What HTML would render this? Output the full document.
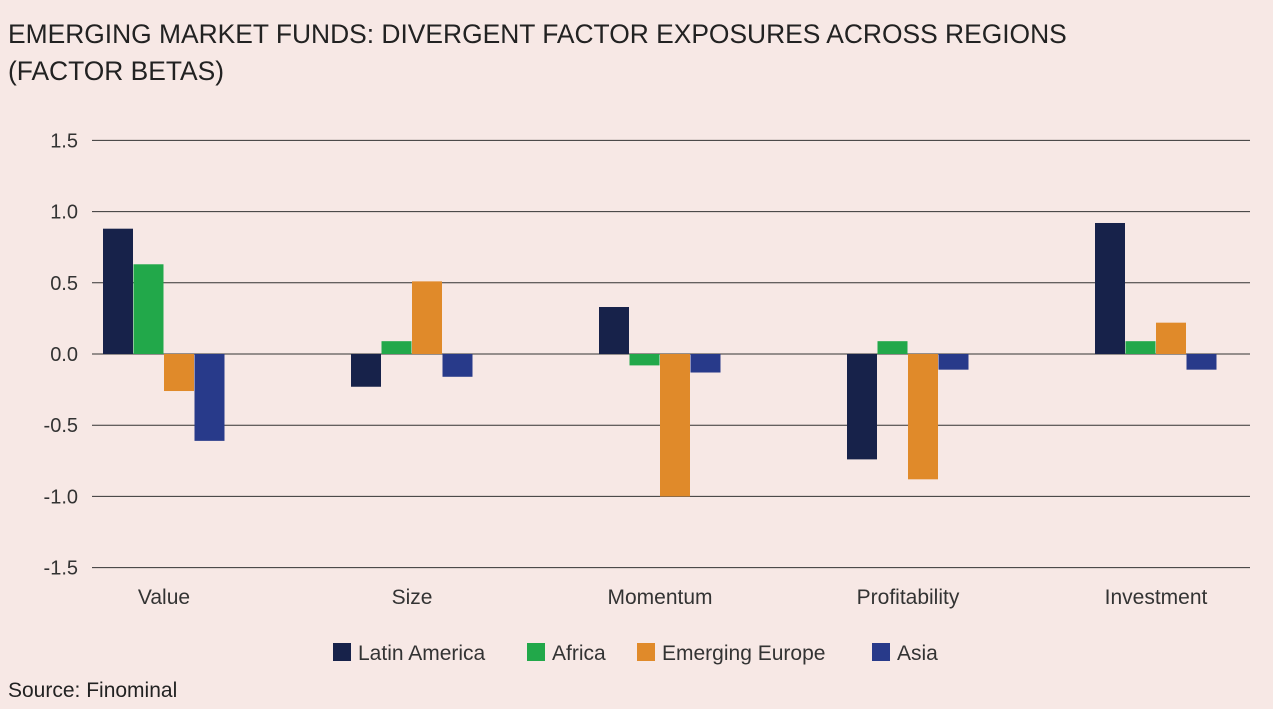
<!DOCTYPE html>
<html><head><meta charset="utf-8"><style>
body{margin:0;background:#f7e8e5;}
svg{display:block;font-family:"Liberation Sans",sans-serif;}
</style></head><body>
<svg width="1273" height="709" viewBox="0 0 1273 709">
<rect width="1273" height="709" fill="#f7e8e5"/>
<text x="8" y="43" font-size="26.4" fill="#222">EMERGING MARKET FUNDS: DIVERGENT FACTOR EXPOSURES ACROSS REGIONS</text>
<text x="8" y="80" font-size="26.4" fill="#222">(FACTOR BETAS)</text>
<g id="grid"></g><g id="bars"></g><g id="xlabels"></g><g id="legend"></g>
<text x="8" y="697" font-size="21" fill="#222">Source: Finominal</text>
</svg>
<script>
const categories=["Value","Size","Momentum","Profitability","Investment"];
const seriesNames=["Latin America","Africa","Emerging Europe","Asia"];
const latinAmerica=[0.88,-0.23,0.33,-0.74,0.92];
const africa=[0.63,0.09,-0.08,0.09,0.09];
const emergingEurope=[-0.26,0.51,-1.0,-0.88,0.22];
const asia=[-0.61,-0.16,-0.13,-0.11,-0.11];
const yTicks=[1.5,1.0,0.5,0.0,-0.5,-1.0,-1.5];
const colors=["#17224a","#22a84a","#e08a2a","#283a8a"];
const series=[latinAmerica,africa,emergingEurope,asia];
const NS="http://www.w3.org/2000/svg";
const y=v=>354-v*142.4;
const step=248, x0=40;
const xc=i=>x0+step*i+step/2;
const bw=30.5;
function mk(t,a,p){const e=document.createElementNS(NS,t);for(const k in a)e.setAttribute(k,a[k]);p.appendChild(e);return e;}
const grid=document.getElementById('grid');
yTicks.forEach(t=>{
 const l=mk('line',{x1:92,x2:1250,y1:y(t),y2:y(t),stroke:'#333','stroke-width':1},grid);
 
 
 const tx=mk('text',{x:78,y:y(t)+7,'font-size':20,fill:'#333','text-anchor':'end'},grid);
 tx.textContent=t.toFixed(1);
 
 
});
const bars=document.getElementById('bars');
categories.forEach((c,i)=>{
 series.forEach((s,j)=>{
  const v=s[i];
  const r=mk('rect',{x:xc(i)-2*bw+j*bw,y:Math.min(y(v),y(0)),width:bw-0.5,height:Math.abs(y(v)-y(0)),fill:colors[j]},bars);
  
  
 });
 const t=mk('text',{x:xc(i),y:604,'font-size':21,fill:'#333','text-anchor':'middle'},document.getElementById('xlabels'));
 t.textContent=c;
 
 
});
const lg=document.getElementById('legend');
const lx=[333,527,637,872];
seriesNames.forEach((n,j)=>{
 const r=mk('rect',{x:lx[j],y:643,width:18,height:18,fill:colors[j]},lg);
 
 
 const t=mk('text',{x:lx[j]+25,y:660,'font-size':21,fill:'#333'},lg);
 t.textContent=n;
 
 
});
</script>
</body></html>
